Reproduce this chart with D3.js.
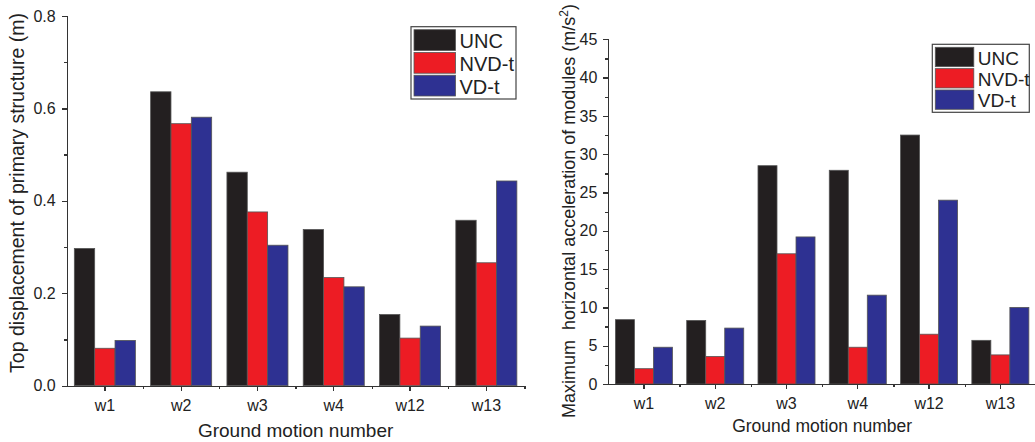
<!DOCTYPE html>
<html>
<head>
<meta charset="utf-8">
<script src="https://cdnjs.cloudflare.com/ajax/libs/d3/7.8.5/d3.min.js"></script>
<style>
  body { margin: 0; background: #fff; }
  svg { display: block; font-family: Arial, "Liberation Sans", sans-serif; }
  .axis path, .axis line { stroke: #333; stroke-width: 1.3; shape-rendering: crispEdges; }
  .axis text { fill: #222; font-size: 16px; }
</style>
</head>
<body>
<div id="chart"></div>
<script>
// ---------- data ----------
var motions = ["w1", "w2", "w3", "w4", "w12", "w13"];
var seriesNames = ["UNC", "NVD-t", "VD-t"];
var seriesColors = ["#231f20", "#ed1c24", "#2e3192"];

// top displacement of primary structure (m)
var dispUNC  = [0.297, 0.636, 0.462, 0.338, 0.154, 0.358];
var dispNVD  = [0.081, 0.567, 0.376, 0.234, 0.103, 0.266];
var dispVD   = [0.098, 0.581, 0.304, 0.214, 0.129, 0.443];

// maximum horizontal acceleration of modules (m/s^2)
var accUNC = [8.4, 8.3, 28.5, 27.9, 32.5, 5.7];
var accNVD = [2.0, 3.6, 17.0, 4.8, 6.5, 3.8];
var accVD  = [4.8, 7.3, 19.2, 11.6, 24.0, 10.0];

var dispTicks = [0, 0.2, 0.4, 0.6, 0.8];
var accTicks = [0, 5, 10, 15, 20, 25, 30, 35, 40, 45];

var W = 1035, H = 442;
var svg = d3.select("#chart").append("svg")
  .attr("width", W).attr("height", H);

function drawPanel(cfg) {
  var g = svg.append("g");
  var x = d3.scaleBand().domain(motions).range([cfg.x0, cfg.x1]).paddingInner(0.2).paddingOuter(0.1);
  var xs = d3.scaleBand().domain(seriesNames).range([0, x.bandwidth()]);
  var y = d3.scaleLinear().domain([0, cfg.ymax]).range([cfg.y0, cfg.y1]);

  var rows = motions.map(function(m, i) {
    return { m: m, vals: cfg.series.map(function(s) { return s[i]; }) };
  });

  // bars
  g.selectAll(".grp").data(rows).enter().append("g")
    .attr("transform", function(d) { return "translate(" + x(d.m) + ",0)"; })
    .selectAll("rect").data(function(d) { return d.vals; }).enter().append("rect")
    .attr("x", function(d, i) { return xs(seriesNames[i]); })
    .attr("width", xs.bandwidth())
    .attr("y", function(d) { return y(d); })
    .attr("height", function(d) { return y(0) - y(d); })
    .attr("fill", function(d, i) { return seriesColors[i]; })
    .attr("stroke", "#555").attr("stroke-width", 0.8);

  // y axis: major + minor ticks
  var step = cfg.ticks[1] - cfg.ticks[0];
  var minor = cfg.ticks.slice(0, -1).map(function(t) { return t + step / 2; });
  g.append("g").attr("class", "axis")
    .attr("transform", "translate(" + cfg.x0 + ",0)")
    .call(d3.axisLeft(y).tickValues(minor).tickSize(3).tickFormat(""));
  g.append("g").attr("class", "axis")
    .attr("transform", "translate(" + cfg.x0 + ",0)")
    .call(d3.axisLeft(y).tickValues(cfg.ticks).tickSize(5).tickPadding(6).tickFormat(cfg.fmt).tickSizeOuter(0));

  // x axis with ticks at centres and minor ticks at band edges
  var edges = d3.range(motions.length + 1).map(function(i) { return cfg.x0 + i * x.step(); });
  var xl = d3.scaleLinear().domain([cfg.x0, cfg.x1]).range([cfg.x0, cfg.x1]);
  g.append("g").attr("class", "axis")
    .attr("transform", "translate(0," + cfg.y0 + ")")
    .call(d3.axisBottom(xl).tickValues(edges.slice(1)).tickSize(3).tickFormat("").tickSizeOuter(0));
  g.append("g").attr("class", "axis")
    .attr("transform", "translate(0," + cfg.y0 + ")")
    .call(d3.axisBottom(x).tickSize(5).tickSizeOuter(0).tickPadding(9))
    .select(".domain").remove();

  // axis titles
  g.append("text")
    .attr("x", (cfg.x0 + cfg.x1) / 2 + cfg.xtDx).attr("y", cfg.xtY)
    .attr("text-anchor", "middle").attr("font-size", cfg.titleSize).attr("fill", "#222")
    .text("Ground motion number");
  var yt = g.append("text")
    .attr("transform", "translate(" + cfg.ytX + "," + cfg.ytY + ") rotate(-90)")
    .attr("text-anchor", "middle").attr("font-size", cfg.ytSize).attr("fill", "#222");
  cfg.yTitle(yt);

  // legend
  var lg = g.append("g").attr("transform", "translate(" + cfg.lx + "," + cfg.ly + ")");
  lg.append("rect").attr("width", cfg.lw).attr("height", cfg.lh)
    .attr("fill", "#fff").attr("stroke", "#444").attr("stroke-width", 1.2);
  var rowH = (cfg.lh - 4) / 3;
  seriesNames.forEach(function(n, i) {
    lg.append("rect").attr("x", 3).attr("y", 3 + i * rowH)
      .attr("width", cfg.sw).attr("height", rowH - 2)
      .attr("fill", seriesColors[i]).attr("stroke", "#555").attr("stroke-width", 0.8);
    lg.append("text").attr("x", cfg.sw + 7).attr("y", 3 + i * rowH + rowH / 2 + cfg.lfs * 0.36)
      .attr("font-size", cfg.lfs).attr("fill", "#222").text(n);
  });
}

drawPanel({
  x0: 66.7, x1: 524.5, y0: 385.7, y1: 16, ymax: 0.8,
  series: [dispUNC, dispNVD, dispVD], ticks: dispTicks, fmt: d3.format(".1f"),
  xtY: 437, xtDx: 0, titleSize: 19,
  ytX: 24, ytY: 193, ytSize: 19.5,
  yTitle: function(t) { t.text("Top displacement of primary structure (m)"); },
  lx: 411, ly: 26.7, lw: 105, lh: 72.3, sw: 41.5, lfs: 20
});

drawPanel({
  x0: 608.3, x1: 1036, y0: 384, y1: 39.3, ymax: 45,
  series: [accUNC, accNVD, accVD], ticks: accTicks, fmt: d3.format("d"),
  xtY: 432, xtDx: 0, titleSize: 17.5,
  ytX: 575, ytY: 211, ytSize: 18,
  yTitle: function(t) {
    t.append("tspan").text("Maximum\u00a0\u00a0horizontal acceleration of modules (m/s");
    t.append("tspan").attr("font-size", 12).attr("dy", -7).text("2");
    t.append("tspan").attr("dy", 7).text(")");
  },
  lx: 932.3, ly: 44.3, lw: 97, lh: 68, sw: 38.5, lfs: 19
});
</script>
</body>
</html>
